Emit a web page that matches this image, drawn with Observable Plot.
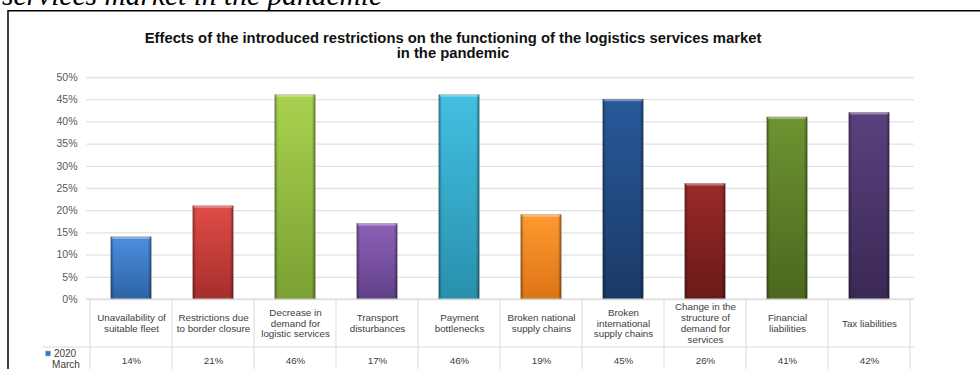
<!DOCTYPE html>
<html>
<head>
<meta charset="utf-8">
<script src="https://cdn.jsdelivr.net/npm/d3@7"></script>
<script src="https://cdn.jsdelivr.net/npm/@observablehq/plot@0.6"></script>
<style>
  html, body { margin: 0; padding: 0; background: #fff; }
  #chart { position: relative; width: 980px; height: 369px; overflow: hidden; }
  #chart svg { display: block; }
</style>
</head>
<body>
<div id="chart"></div>
<script>
// Survey categories (x), shares of respondents (%), and per-bar colours
const categories = [
  "Unavailability of suitable fleet",
  "Restrictions due to border closure",
  "Decrease in demand for logistic services",
  "Transport disturbances",
  "Payment bottlenecks",
  "Broken national supply chains",
  "Broken international supply chains",
  "Change in the structure of demand for services",
  "Financial liabilities",
  "Tax liabilities"
];
const headerLabels = [
  "Unavailability of\nsuitable fleet",
  "Restrictions due\nto border closure",
  "Decrease in\ndemand for\nlogistic services",
  "Transport\ndisturbances",
  "Payment\nbottlenecks",
  "Broken national\nsupply chains",
  "Broken\ninternational\nsupply chains",
  "Change in the\nstructure of\ndemand for\nservices",
  "Financial\nliabilities",
  "Tax liabilities"
];
const values = [14, 21, 46, 17, 46, 19, 45, 26, 41, 42];
const topColors = ["#4b8fdd", "#e04c47", "#a9d24f", "#8c62b8", "#43c0e2", "#fd9a30", "#28599a", "#9a2a28", "#6d9431", "#5a417f"];
const bottomColors = ["#2d63a6", "#a62e2b", "#7aa032", "#624089", "#2890ad", "#dd7417", "#1a3a66", "#6b1918", "#4b671e", "#3a2854"];
const yTicks = [0, 5, 10, 15, 20, 25, 30, 35, 40, 45, 50];
const seriesLabel = ["2020", "March"];
const titleLines = [
  "Effects of the introduced restrictions on the functioning of the logistics services market",
  "in the pandemic"
];
const headingTail = "services market in the pandemic";

const rows = categories.map((c, i) => ({
  category: c,
  label: headerLabels[i],
  value: values[i],
  idx: i
}));

const W = 980, H = 369;
const marginLeft = 86, marginRight = 66, marginTop = 77, marginBottom = 70;
const barInset = 20.8;
const font = "'Liberation Sans', Arial, sans-serif";

const chart = Plot.plot({
  width: W,
  height: H,
  marginLeft, marginRight, marginTop, marginBottom,
  style: { fontFamily: font, fontSize: "10.5px", color: "#595959", background: "transparent" },
  x: { domain: categories, padding: 0, axis: null },
  y: {
    domain: [0, 50],
    ticks: yTicks,
    tickFormat: d => d + "%",
    tickSize: 0,
    tickPadding: 9,
    label: null
  },
  color: { type: "identity" },
  marks: [
    Plot.ruleY(yTicks, { stroke: "#e2e2e2", strokeWidth: 1.3 }),
    // bar body with vertical shading
    Plot.barY(rows, {
      x: "category", y: "value",
      fill: d => `url(#bar-grad-${d.idx})`,
      insetLeft: barInset, insetRight: barInset,
      stroke: "rgba(60,60,60,0.35)", strokeWidth: 0.8
    }),
    // darker side edges
    Plot.barY(rows, {
      x: "category", y: "value",
      fill: () => "url(#bar-edge)",
      insetLeft: barInset, insetRight: barInset
    }),
    // light bevel along the top
    Plot.barY(rows, {
      x: "category", y1: d => d.value - 0.45, y2: "value",
      fill: () => "rgba(255,255,255,0.35)",
      insetLeft: barInset + 1, insetRight: barInset + 1
    }),
    // data table: category names
    Plot.text(rows, {
      x: "category", text: "label",
      frameAnchor: "bottom", dy: 23.5,
      lineAnchor: "middle", lineHeight: 1.12,
      fill: "#404040", fontSize: 9.8
    }),
    // data table: values
    Plot.text(rows, {
      x: "category", text: d => d.value + "%",
      frameAnchor: "bottom", dy: 61,
      lineAnchor: "middle",
      fill: "#404040", fontSize: 9.8
    })
  ]
});

document.getElementById("chart").appendChild(chart);

const svg = d3.select(chart);
const x = chart.scale("x");
const defs = svg.insert("defs", ":first-child");

rows.forEach((d, i) => {
  const g = defs.append("linearGradient")
    .attr("id", `bar-grad-${i}`)
    .attr("x1", 0).attr("y1", 0).attr("x2", 0).attr("y2", 1);
  g.append("stop").attr("offset", "0%").attr("stop-color", topColors[i]);
  g.append("stop").attr("offset", "100%").attr("stop-color", bottomColors[i]);
});
const edge = defs.append("linearGradient")
  .attr("id", "bar-edge")
  .attr("x1", 0).attr("y1", 0).attr("x2", 1).attr("y2", 0);
[[0, 0.35], [0.08, 0.0], [0.92, 0.0], [1, 0.4]].forEach(([o, a]) =>
  edge.append("stop").attr("offset", o).attr("stop-color", "#000").attr("stop-opacity", a));

// data table grid
const x0 = marginLeft, x1 = W - marginRight, yTop = H - marginBottom, yRow = yTop + 48;
const table = svg.append("g").attr("stroke", "#d9d9d9").attr("stroke-width", 1);
table.append("line").attr("x1", x0).attr("x2", x1).attr("y1", yTop).attr("y2", yTop);
table.append("line").attr("x1", 42).attr("x2", x1).attr("y1", yRow).attr("y2", yRow);
const edges = categories.map(c => x.apply(c)).concat([x.apply(categories[categories.length - 1]) + x.bandwidth]);
edges.forEach(px => {
  table.append("line").attr("x1", px).attr("x2", px).attr("y1", yTop).attr("y2", H);
});

// series key in the value row
svg.append("rect").attr("x", 45.5).attr("y", 351).attr("width", 5).attr("height", 5)
  .attr("fill", "#3b78c4").attr("stroke", "#9bb7dd").attr("stroke-width", 0.6);
const key = svg.append("text")
  .attr("font-family", font).attr("font-size", 10).attr("fill", "#404040")
  .attr("text-anchor", "middle");
key.append("tspan").attr("x", 65).attr("y", 357).text(seriesLabel[0]);
key.append("tspan").attr("x", 66).attr("y", 368).text(seriesLabel[1]);

// chart title
const title = svg.append("text")
  .attr("font-family", font).attr("font-size", 14.8).attr("font-weight", "bold")
  .attr("fill", "#111").attr("text-anchor", "middle");
title.append("tspan").attr("x", 453).attr("y", 42.5).text(titleLines[0]);
title.append("tspan").attr("x", 453).attr("y", 57.5).text(titleLines[1]);

// outer frame and the heading above it
svg.append("path")
  .attr("d", `M8,${H} V10.8 H${W}`)
  .attr("fill", "none").attr("stroke", "#000").attr("stroke-width", 1.5);
svg.append("text")
  .attr("x", 2).attr("y", 5)
  .attr("text-anchor", "start")
  .attr("font-family", "'Liberation Serif', 'Times New Roman', serif")
  .attr("font-style", "italic").attr("font-size", 29.5).attr("fill", "#000")
  .text(headingTail);
</script>
</body>
</html>
